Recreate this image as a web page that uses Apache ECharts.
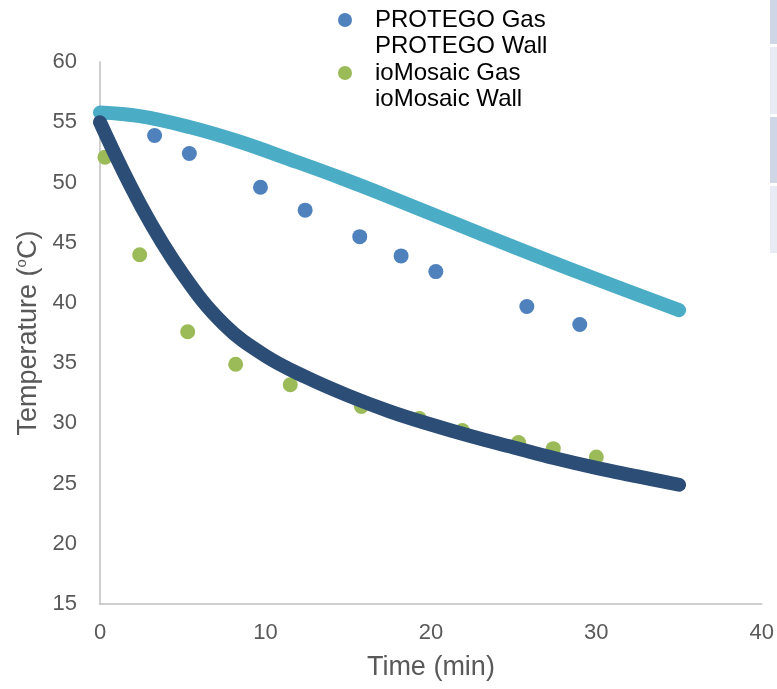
<!DOCTYPE html>
<html>
<head>
<meta charset="utf-8">
<script src="https://cdn.jsdelivr.net/npm/echarts@6/dist/echarts.min.js"></script>
<style>html,body{margin:0;padding:0;background:#fff}#c{width:777px;height:689px}</style>
</head>
<body>
<div id="c"></div>
<script>
var protegoGasX = [3.3, 5.4, 9.7, 12.4, 15.7, 18.2, 20.3, 25.8, 29.0];
var protegoGasY = [53.9, 52.4, 49.6, 47.7, 45.5, 43.9, 42.6, 39.7, 38.2];
var iomosaicGasX = [0.3, 2.4, 5.3, 8.2, 11.5, 15.8, 19.3, 21.9, 25.3, 27.4, 30.0];
var iomosaicGasY = [52.1, 44.0, 37.6, 34.9, 33.2, 31.4, 30.4, 29.4, 28.4, 27.9, 27.2];
var protegoWallX = [0, 2.4, 5.4, 8.4, 11.5, 14.5, 17.5, 22.9, 29.0, 35.0];
var protegoWallY = [55.8, 55.5, 54.6, 53.4, 51.9, 50.4, 48.8, 45.8, 42.5, 39.4];
var iomosaicWallX = [0, 2.5, 5, 7.5, 10, 12.5, 15, 17.5, 20, 22.5, 25, 27.5, 30, 32.5, 35];
var iomosaicWallY = [55.0, 48.0, 42.4, 38.2, 35.6, 33.8, 32.3, 31.0, 29.9, 28.9, 28.0, 27.1, 26.3, 25.6, 24.9];
var seriesNames = ['PROTEGO Gas', 'PROTEGO Wall', 'ioMosaic Gas', 'ioMosaic Wall'];

function zip(xs, ys) { return xs.map(function (x, i) { return [x, ys[i]]; }); }

var chart = echarts.init(document.getElementById('c'));
var font = '"Liberation Sans", Arial, sans-serif';
chart.setOption({
  animation: false,
  backgroundColor: '#ffffff',
  textStyle: { fontFamily: font },
  grid: { left: 100, right: 14, top: 62, bottom: 85 },
  legend: {
    orient: 'vertical', left: 333, top: 3, itemGap: 2.5,
    itemWidth: 14, itemHeight: 14,
    textStyle: { fontSize: 24, lineHeight: 24, color: '#000000', fontFamily: font, padding: [0, 0, 0, 18] },
    data: [
      { name: seriesNames[0], icon: 'circle' },
      { name: seriesNames[1], icon: 'circle', itemStyle: { opacity: 0 } },
      { name: seriesNames[2], icon: 'circle' },
      { name: seriesNames[3], icon: 'circle', itemStyle: { opacity: 0 } }
    ]
  },
  xAxis: {
    type: 'value', min: 0, max: 40, interval: 10,
    name: 'Time (min)', nameLocation: 'middle', nameGap: 50,
    nameTextStyle: { fontSize: 27, color: '#595959' },
    axisLine: { show: true, lineStyle: { color: '#bfbfbf', width: 1.5 } },
    axisTick: { show: false }, splitLine: { show: false },
    axisLabel: { fontSize: 22, color: '#595959', margin: 18 }
  },
  yAxis: {
    type: 'value', min: 15, max: 60, interval: 5,
    name: 'Temperature ({s|o}C)', nameLocation: 'middle', nameGap: 56,
    nameTextStyle: { fontSize: 27, color: '#595959', rich: { s: { fontSize: 15, color: '#595959', verticalAlign: 'top' } } },
    axisLine: { show: true, lineStyle: { color: '#bfbfbf', width: 1.5 } },
    axisTick: { show: false }, splitLine: { show: false },
    axisLabel: { fontSize: 22, color: '#595959', margin: 23 }
  },
  graphic: [
    { type: 'rect', shape: { x: 770, y: 0, width: 7, height: 44 }, style: { fill: '#cfd6e6' } },
    { type: 'rect', shape: { x: 770, y: 47, width: 7, height: 67 }, style: { fill: '#e8ebf3' } },
    { type: 'rect', shape: { x: 770, y: 117, width: 7, height: 66 }, style: { fill: '#cfd6e6' } },
    { type: 'rect', shape: { x: 770, y: 186, width: 7, height: 67 }, style: { fill: '#e8ebf3' } }
  ],
  series: [
    { name: seriesNames[1], type: 'line', smooth: 0.4, showSymbol: false, z: 2,
      data: zip(protegoWallX, protegoWallY), color: '#4BACC6',
      lineStyle: { width: 14, color: '#4BACC6', cap: 'round', join: 'round' } },
    { name: seriesNames[0], type: 'scatter', symbol: 'circle', symbolSize: 15, z: 3,
      data: zip(protegoGasX, protegoGasY), itemStyle: { color: '#4F81BD', opacity: 1 } },
    { name: seriesNames[2], type: 'scatter', symbol: 'circle', symbolSize: 15, z: 3,
      data: zip(iomosaicGasX, iomosaicGasY), itemStyle: { color: '#9BBB59', opacity: 1 } },
    { name: seriesNames[3], type: 'line', smooth: 0.4, showSymbol: false, z: 4,
      data: zip(iomosaicWallX, iomosaicWallY), color: '#2C4D75',
      lineStyle: { width: 14, color: '#2C4D75', cap: 'round', join: 'round' } }
  ]
});
</script>
</body>
</html>
